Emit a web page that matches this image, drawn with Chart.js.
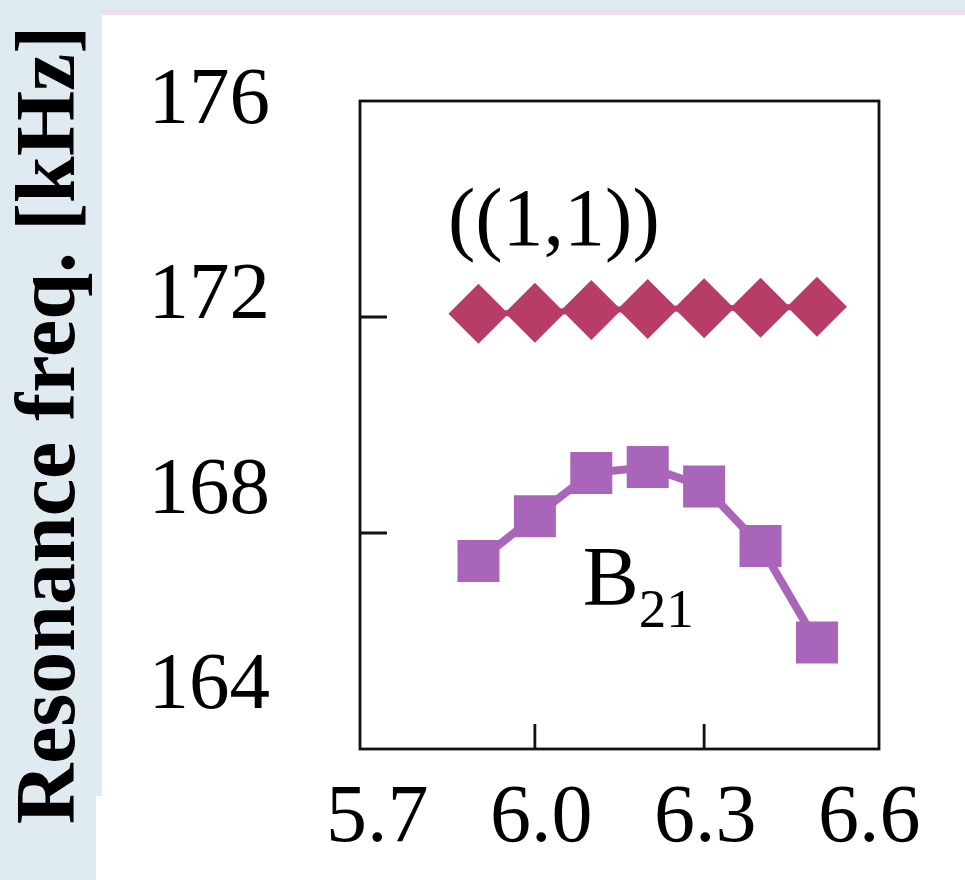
<!DOCTYPE html>
<html>
<head>
<meta charset="utf-8">
<script src="https://cdn.jsdelivr.net/npm/chart.js@4.4.1/dist/chart.umd.min.js"></script>
<style>
  html, body { margin: 0; padding: 0; background: #ffffff; }
  #wrap { position: relative; width: 965px; height: 880px; overflow: hidden; }
  .band { position: absolute; }
  #chartCanvas { position: absolute; left: 0; top: 0; }
</style>
</head>
<body>
<div id="wrap">
  <div class="band" style="left:0;top:0;width:965px;height:9px;background:#e0ebf1"></div>
  <div class="band" style="left:102px;top:9px;width:863px;height:6px;background:#efdef0"></div>
  <div class="band" style="left:0;top:0;width:102px;height:796px;background:#e0ebf1"></div>
  <div class="band" style="left:0;top:796px;width:96px;height:84px;background:#e0ebf1"></div>
  <canvas id="chartCanvas" width="965" height="880"></canvas>
</div>
<script>
// data
const xValues = [5.9, 6.0, 6.1, 6.2, 6.3, 6.4, 6.5];
const mode11 = [172.06, 172.08, 172.13, 172.15, 172.16, 172.17, 172.19];
const modeB21 = [167.48, 168.31, 169.11, 169.22, 168.86, 167.76, 165.97];

const xTickLabels = [5.7, 6.0, 6.3, 6.6];
const yTickLabels = [164, 168, 172, 176];
const xInnerTicks = [6.0, 6.3];
const yInnerTicks = [168, 172];

const serif = "'Liberation Serif', 'Times New Roman', serif";

function toPoints(ys) {
  return xValues.map((x, i) => ({ x: x, y: ys[i] }));
}

// box, inward ticks, and the two curve labels
const framePlugin = {
  id: 'frame',
  beforeDatasetsDraw(chart) {
    const { ctx, chartArea: a, scales } = chart;
    ctx.save();
    ctx.strokeStyle = '#111';
    ctx.lineWidth = 2.8;
    ctx.strokeRect(a.left, a.top, a.right - a.left, a.bottom - a.top);
    ctx.beginPath();
    yInnerTicks.forEach(v => {
      const y = scales.y.getPixelForValue(v);
      ctx.moveTo(a.left, y);
      ctx.lineTo(a.left + 27, y);
    });
    xInnerTicks.forEach(v => {
      const x = scales.x.getPixelForValue(v);
      ctx.moveTo(x, a.bottom);
      ctx.lineTo(x, a.bottom - 25);
    });
    ctx.stroke();
    ctx.restore();
  },
  afterDatasetsDraw(chart) {
    const { ctx, scales } = chart;
    ctx.save();
    ctx.fillStyle = '#000';
    ctx.textBaseline = 'alphabetic';
    ctx.textAlign = 'left';
    ctx.font = '82px ' + serif;
    ctx.fillText('((1,1))', scales.x.getPixelForValue(5.846), scales.y.getPixelForValue(173.33));
    const bx = scales.x.getPixelForValue(6.085);
    const by = scales.y.getPixelForValue(166.67);
    ctx.font = '84px ' + serif;
    ctx.fillText('B', bx, by);
    const bw = ctx.measureText('B').width;
    ctx.font = '55px ' + serif;
    ctx.fillText('21', bx + bw, by + 22);
    ctx.restore();
  }
};

new Chart(document.getElementById('chartCanvas'), {
  type: 'line',
  data: {
    datasets: [
      {
        label: '((1,1))',
        data: toPoints(mode11),
        borderColor: '#b83c68',
        backgroundColor: '#b83c68',
        borderWidth: 6,
        pointStyle: 'rectRot',
        pointRadius: 30,
        pointBorderWidth: 0,
        pointBackgroundColor: '#b83c68'
      },
      {
        label: 'B21',
        data: toPoints(modeB21),
        borderColor: '#a965b9',
        backgroundColor: '#a965b9',
        borderWidth: 8,
        pointStyle: 'rect',
        pointRadius: 29.7,
        pointBorderWidth: 0,
        pointBackgroundColor: '#a965b9'
      }
    ]
  },
  options: {
    responsive: false,
    animation: false,
    devicePixelRatio: 1,
    clip: false,
    events: [],
    layout: { padding: { top: 101, right: 86, left: 0, bottom: 0 } },
    plugins: {
      legend: { display: false },
      tooltip: { enabled: false }
    },
    scales: {
      x: {
        type: 'linear',
        display: false,
        min: 5.69,
        max: 6.61
      },
      y: {
        type: 'linear',
        display: false,
        min: 164,
        max: 176
      },
      // axes that carry the printed tick labels
      x2: {
        type: 'linear',
        position: 'bottom',
        weight: 1,
        min: 5.6685,
        max: 6.6178,
        grid: { display: false },
        border: { display: false },
        afterBuildTicks: (scale) => { scale.ticks = xTickLabels.map(v => ({ value: v })); },
        afterFit: (scale) => { scale.height = 131; scale.paddingLeft = 0; scale.paddingRight = 0; },
        ticks: {
          autoSkip: false,
          maxRotation: 0,
          padding: 13,
          color: '#000',
          font: { family: serif, size: 82 },
          callback: (v) => Number(v).toFixed(1)
        }
      },
      y2: {
        type: 'linear',
        position: 'left',
        weight: 1,
        min: 162.72,
        max: 176.02,
        grid: { display: false },
        border: { display: false },
        afterBuildTicks: (scale) => { scale.ticks = yTickLabels.map(v => ({ value: v })); },
        afterFit: (scale) => { scale.width = 360; scale.paddingTop = 0; scale.paddingBottom = 0; },
        ticks: {
          autoSkip: false,
          padding: 82,
          color: '#000',
          font: { family: serif, size: 81 },
          callback: (v) => String(v)
        },
        title: {
          display: true,
          text: 'Resonance freq. [kHz]',
          color: '#000',
          padding: { top: 2, bottom: 0 },
          font: { family: serif, size: 84, weight: 'bold' }
        }
      }
    }
  },
  plugins: [framePlugin]
});
</script>
</body>
</html>
